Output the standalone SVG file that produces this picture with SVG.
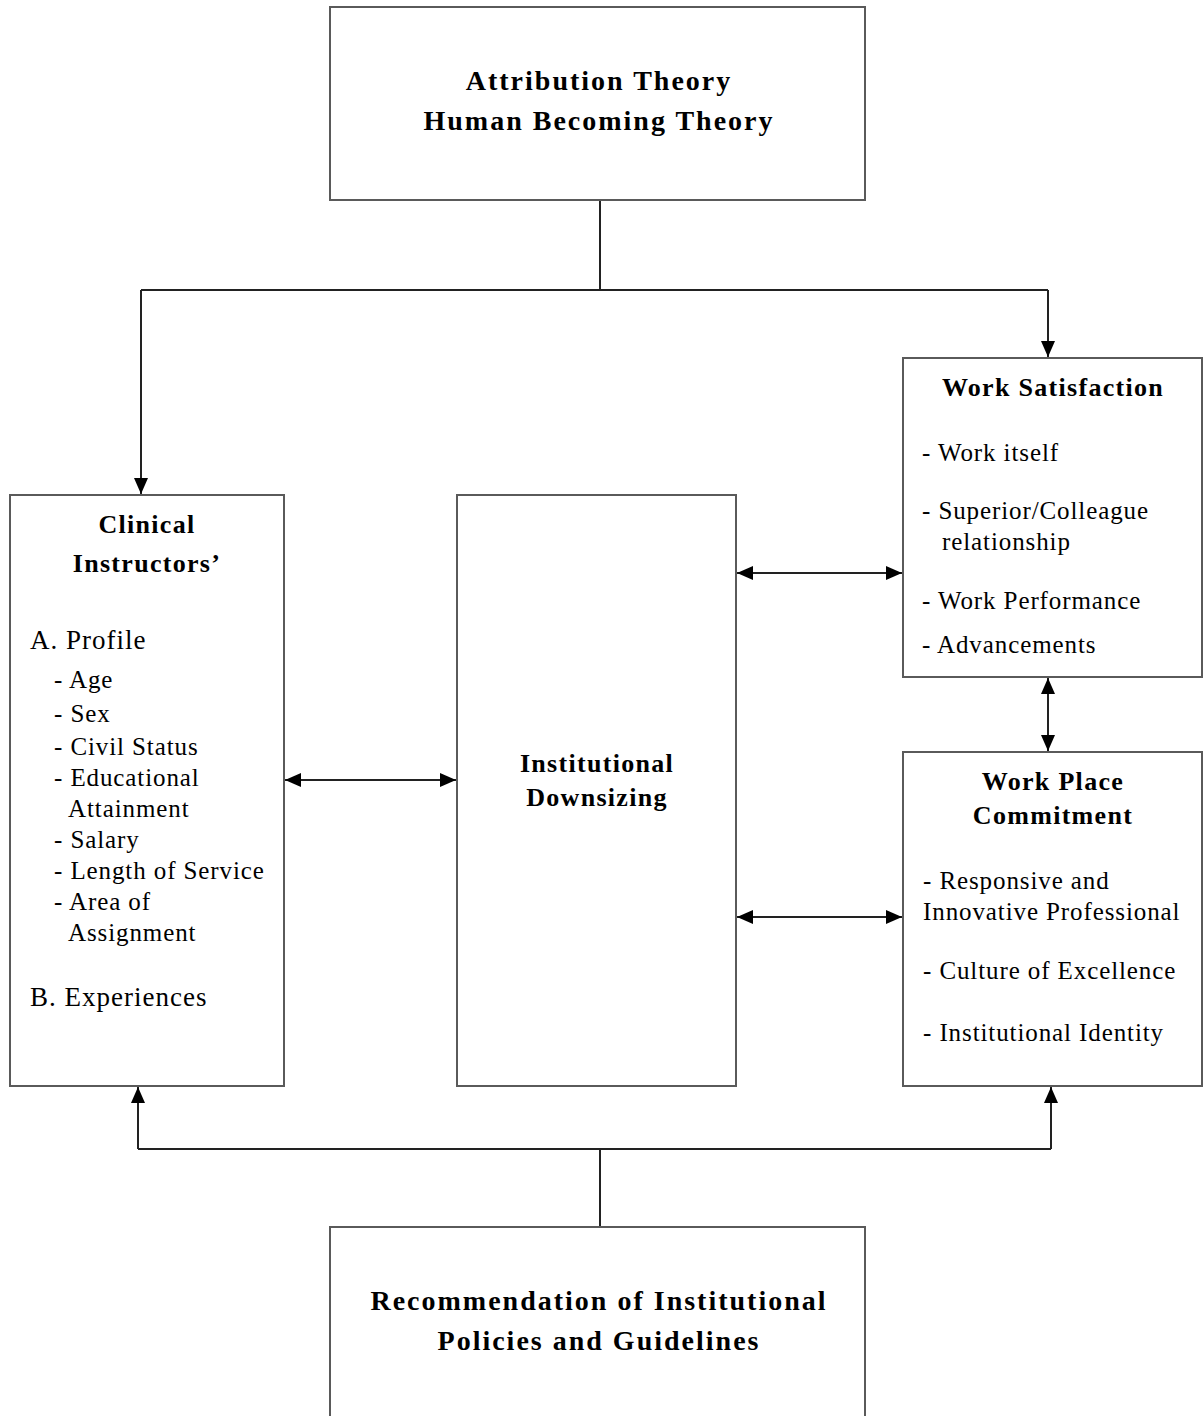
<svg xmlns="http://www.w3.org/2000/svg" width="1203" height="1416" viewBox="0 0 1203 1416">
<style>
.box{fill:#fff;stroke:#5a5a5a;stroke-width:2}
.con{fill:none;stroke:#222;stroke-width:2}
text{font-family:"Liberation Serif","Times New Roman",serif;fill:#000}
.title{font-size:28px;font-weight:bold;letter-spacing:2px;text-anchor:middle}
.head{font-size:26px;font-weight:bold;letter-spacing:1.3px;text-anchor:middle}
.item{font-size:25px;letter-spacing:0.9px}
.sec{font-size:27px;letter-spacing:1px}
</style>
<defs>
<marker id="ah" viewBox="0 0 16 14" refX="16" refY="7" markerWidth="16" markerHeight="14" markerUnits="userSpaceOnUse" orient="auto-start-reverse">
<path d="M0,0 L16,7 L0,14 z" fill="#000"/>
</marker>
</defs>

<g id="connectors">
<path class="con" d="M600,200 V290"/>
<path class="con" d="M141,290 H1048"/>
<path class="con" d="M141,290 V494" marker-end="url(#ah)"/>
<path class="con" d="M1048,290 V357" marker-end="url(#ah)"/>
<path class="con" d="M285,780 H456" marker-start="url(#ah)" marker-end="url(#ah)"/>
<path class="con" d="M737,573 H902" marker-start="url(#ah)" marker-end="url(#ah)"/>
<path class="con" d="M737,917 H902" marker-start="url(#ah)" marker-end="url(#ah)"/>
<path class="con" d="M1048,678 V751" marker-start="url(#ah)" marker-end="url(#ah)"/>
<path class="con" d="M600,1227 V1149"/>
<path class="con" d="M138,1149 H1051"/>
<path class="con" d="M138,1149 V1087" marker-end="url(#ah)"/>
<path class="con" d="M1051,1149 V1087" marker-end="url(#ah)"/>
</g>

<g id="theories">
<rect class="box" x="330" y="7" width="535" height="193"/>
<text class="title" x="599" y="90">Attribution Theory</text>
<text class="title" x="599" y="130">Human Becoming Theory</text>
</g>

<g id="clinical-instructors">
<rect class="box" x="10" y="495" width="274" height="591"/>
<text class="head" x="147" y="533">Clinical</text>
<text class="head" x="147" y="572">Instructors’</text>
<text class="sec" x="30" y="649">A. Profile</text>
<text class="item" x="54" y="688">- Age</text>
<text class="item" x="54" y="722">- Sex</text>
<text class="item" x="54" y="755">- Civil Status</text>
<text class="item" x="54" y="786">- Educational</text>
<text class="item" x="68" y="817">Attainment</text>
<text class="item" x="54" y="848">- Salary</text>
<text class="item" x="54" y="879">- Length of Service</text>
<text class="item" x="54" y="910">- Area of</text>
<text class="item" x="68" y="941">Assignment</text>
<text class="sec" x="30" y="1006">B. Experiences</text>
</g>

<g id="institutional-downsizing">
<rect class="box" x="457" y="495" width="279" height="591"/>
<text class="head" x="597" y="772">Institutional</text>
<text class="head" x="597" y="806">Downsizing</text>
</g>

<g id="work-satisfaction">
<rect class="box" x="903" y="358" width="299" height="319"/>
<text class="head" x="1053" y="396">Work Satisfaction</text>
<text class="item" x="922" y="461">- Work itself</text>
<text class="item" x="922" y="519">- Superior/Colleague</text>
<text class="item" x="942" y="550">relationship</text>
<text class="item" x="922" y="609">- Work Performance</text>
<text class="item" x="922" y="653">- Advancements</text>
</g>

<g id="work-place-commitment">
<rect class="box" x="903" y="752" width="299" height="334"/>
<text class="head" x="1053" y="790">Work Place</text>
<text class="head" x="1053" y="824">Commitment</text>
<text class="item" x="923" y="889">- Responsive and</text>
<text class="item" x="923" y="920">Innovative Professional</text>
<text class="item" x="923" y="979">- Culture of Excellence</text>
<text class="item" x="923" y="1041">- Institutional Identity</text>
</g>

<g id="recommendation">
<rect class="box" x="330" y="1227" width="535" height="200"/>
<text class="title" x="599" y="1310">Recommendation of Institutional</text>
<text class="title" x="599" y="1350">Policies and Guidelines</text>
</g>
</svg>
